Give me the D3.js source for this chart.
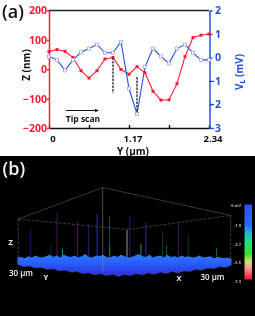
<!DOCTYPE html>
<html>
<head>
<meta charset="utf-8">
<script src="https://cdn.jsdelivr.net/npm/d3@7"></script>
<style>
    html, body { margin: 0; padding: 0; background: #fff; }
    svg { display: block; filter: blur(0.3px); }
    text { font-family: "Open Sans", sans-serif; font-weight: 700; }
    .soft { filter: blur(0.4px); }
</style>
</head>
<body>
<svg width="255" height="316"></svg>
<script>
    // panel (a)
    var yPos = [0, 0.117, 0.234, 0.351, 0.468, 0.585, 0.702, 0.819, 0.936, 1.053, 1.17,
        1.287, 1.404, 1.521, 1.638, 1.755, 1.872, 1.989, 2.106, 2.223, 2.34];
    var zNm = [60, 67, 61, 40, -5, -30, -5, 35, 40, -1, -17, 9, -12, -75, -105, -104, -49, 43, 108, 116, 120];
    var vL = [0.04, -0.1, -0.55, -0.1, 0.22, 0.38, 0.55, 0.2, 0.2, 0.67, -1.32, -2.4, -0.4, 0.38, 0.05, -0.25, 0.38, 0.55, 0.2, -0.1, -0.1];
    var xTicks = [0, 0.585, 1.17, 1.755, 2.34];
    var xTickLabels = ["0", "", "1.17", "", "2.34"];
    var zTicks = [-200, -100, 0, 100, 200];
    var vTicks = [-3, -2, -1, 0, 1, 2];
    var dashes = [
        { y: 0.936, from: 40, to: -82 },
        { y: 1.287, from: -26, to: -145 }
    ];

    // panel (b)
    var surfaceTop = [2, 3, 1, 4, 2, 5, 3, 2, 4, 6, 3, 5, 2, 6, 4, 3, 5, 2, 4, 7, 3, 2, 5, 4, 6, 3, 2, 5, 3, 6,
        4, 2, 3, 5, 7, 4, 3, 6, 2, 4, 5, 2, 6, 3, 4, 2, 5, 3, 4, 2, 3, 5, 2, 3, 4, 1, 3, 2, 1, 2, 0];
    var surfaceBottom = [-8, -11, -10, -13, -12, -15, -14, -17, -16, -19, -18, -21, -20, -23, -21, -24, -22, -25, -22, -24,
        -21, -23, -20, -22, -19, -21, -18, -20, -17, -18, -15, -16, -13, -14, -11, -12, -9];
    var spikeU = [3.7, 11.1, 16.8, 19.9, 22.3, 25.8, 31.5, 36, 45.1, 40.7, 47.9, 55.8, 34.6, 12.6, 25.9, 30.7, 9.4, 41.8];
    var spikeH = [42, 66, 54, 50, 64, 61, 61, 53, 52, 38, 35, 16, 21, 14, 19, 40, 21, 19];
    var spikeColors = ["#1e1e70", "#451858", "#5e1860", "#381870", "#2438b8", "#2438c0", "#2e2288", "#2438b0", "#451a66",
        "#0f4238", "#0e3a2c", "#186658", "#2aa08c", "#2aa08c", "#187868", "#4a6a60", "#0d352e", "#186658"];
    var barStops = [0, 0.28, 0.4, 0.52, 0.66, 0.76, 0.84, 1];
    var barColors = ["#2b50ff", "#2b6cff", "#22c0c0", "#25e070", "#30e030", "#d8e060", "#f0a0a0", "#ff1030"];
    var barTicks = [0, -1.9, -3.7, -5.5, -7.3];
    var barLabels = ["0 mV", "-1.9", "-3.7", "-5.5", "-7.3"];

    var svg = d3.select("svg");

    var x = d3.scaleLinear().domain([0, 2.34]).range([49, 209]);
    var yZ = d3.scaleLinear().domain([-200, 200]).range([128, 10.5]);
    var yV = d3.scaleLinear().domain([-3, 2]).range([128, 10.5]);

    var red = "#ff1a35", blue = "#2450e0";

    svg.append("line").attr("x1", 49).attr("x2", 209).attr("y1", 10.5).attr("y2", 10.5)
        .attr("stroke", "#222").attr("stroke-width", 1.6);

    var xAxis = svg.append("g").attr("transform", "translate(0,128)")
        .call(d3.axisBottom(x).tickValues(xTicks).tickSize(-3).tickSizeOuter(0)
            .tickFormat(function (d, i) { return xTickLabels[i]; }));
    xAxis.selectAll("path, line").attr("stroke", "#111").attr("stroke-width", 1.4);
    xAxis.selectAll("text").attr("fill", "#111").attr("font-size", 9.5).attr("y", 7).attr("dx", 3.5);

    var zAxis = svg.append("g").attr("transform", "translate(49,0)")
        .call(d3.axisLeft(yZ).tickValues(zTicks).tickSize(2).tickSizeOuter(0));
    zAxis.selectAll("path, line").attr("stroke", red).attr("stroke-width", 1.5);
    zAxis.selectAll("text").attr("fill", red).attr("font-size", 10.5).attr("x", -2);

    var vAxis = svg.append("g").attr("transform", "translate(209.5,0)")
        .call(d3.axisRight(yV).tickValues(vTicks).tickSize(3).tickSizeOuter(0).tickFormat(d3.format("d")));
    vAxis.selectAll("path, line").attr("stroke", blue).attr("stroke-width", 1.5);
    vAxis.selectAll("text").attr("fill", blue).attr("font-size", 10.5)
        .attr("text-anchor", "end").attr("x", 11.5);

    var zLine = d3.line().x(function (d, i) { return x(yPos[i]); }).y(function (d) { return yZ(d); });
    var vLine = d3.line().x(function (d, i) { return x(yPos[i]); }).y(function (d) { return yV(d); });

    svg.append("path").datum(zNm).attr("d", zLine).attr("fill", "none").attr("stroke", red).attr("stroke-width", 1.1);
    svg.append("path").datum(vL).attr("d", vLine).attr("fill", "none").attr("stroke", blue).attr("stroke-width", 1.1);

    svg.selectAll(".zpt").data(zNm).enter().append("rect").attr("class", "zpt")
        .attr("x", function (d, i) { return x(yPos[i]) - 1.5; })
        .attr("y", function (d) { return yZ(d) - 1.5; })
        .attr("width", 3).attr("height", 3).attr("fill", red);

    svg.selectAll(".vpt").data(vL).enter().append("rect").attr("class", "vpt")
        .attr("x", function (d, i) { return x(yPos[i]) - 1.5; })
        .attr("y", function (d) { return yV(d) - 1.5; })
        .attr("width", 3).attr("height", 3)
        .attr("fill", "#fff").attr("stroke", "#9aa6e8").attr("stroke-width", 0.8);

    svg.selectAll(".dash").data(dashes).enter().append("line").attr("class", "dash")
        .attr("x1", function (d) { return x(d.y); }).attr("x2", function (d) { return x(d.y); })
        .attr("y1", function (d) { return yZ(d.from); }).attr("y2", function (d) { return yZ(d.to); })
        .attr("stroke", "#222").attr("stroke-width", 1.3).attr("stroke-dasharray", "2.5,1");

    // tip scan arrow
    svg.append("line").attr("x1", 66).attr("x2", 96).attr("y1", 110.5).attr("y2", 110.5)
        .attr("stroke", "#111").attr("stroke-width", 1);
    svg.append("path").attr("d", "M99,110.5L95,108.8L95,112.2Z").attr("fill", "#111");
    svg.append("text").attr("x", 83).attr("y", 122).attr("text-anchor", "middle")
        .attr("font-size", 8.5).attr("fill", "#111").text("Tip scan");

    svg.append("text").attr("x", 2).attr("y", 18).attr("font-size", 18).attr("fill", "#111")
        .style("font-weight", 600).text("(a)");
    svg.append("text").attr("transform", "translate(30,65) rotate(-90)").attr("text-anchor", "middle")
        .attr("font-size", 10).attr("fill", "#111").text("Z (nm)");
    var vLabel = svg.append("text").attr("transform", "translate(243,72) rotate(-90)").attr("text-anchor", "middle")
        .attr("font-size", 10).attr("fill", blue);
    vLabel.append("tspan").text("V");
    vLabel.append("tspan").attr("font-size", 7).attr("dy", 2).text("L");
    vLabel.append("tspan").attr("dy", -2).text(" (mV)");
    svg.append("text").attr("x", 133).attr("y", 155).attr("text-anchor", "middle")
        .attr("font-size", 10).attr("fill", "#111").text("Y (µm)");

    // panel (b) background, cuts off the axis title like the original
    svg.append("rect").attr("x", 0).attr("y", 156).attr("width", 255).attr("height", 160).attr("fill", "#000");

    var u = d3.scaleLinear().domain([0, 60]).range([17.5, 231.5]);
    var h = d3.scaleLinear().domain([0, 100]).range([259, 189]);

    var defs = svg.append("defs");
    var bandGrad = defs.append("linearGradient").attr("id", "band").attr("x1", 0).attr("x2", 0).attr("y1", 0).attr("y2", 1);
    bandGrad.append("stop").attr("offset", 0).attr("stop-color", "#2a7cf5");
    bandGrad.append("stop").attr("offset", 0.35).attr("stop-color", "#2a62ff");
    bandGrad.append("stop").attr("offset", 1).attr("stop-color", "#2a2ad8");

    var barGrad = defs.append("linearGradient").attr("id", "bar").attr("x1", 0).attr("x2", 0).attr("y1", 0).attr("y2", 1);
    barStops.forEach(function (s, i) {
        barGrad.append("stop").attr("offset", s).attr("stop-color", barColors[i]);
    });

    var soft = svg.append("g").attr("class", "soft");

    // wireframe box
    var wire = [
        [[102.7, 187.5], [18.3, 219]],
        [[102.7, 187.5], [230.7, 215.5]]
    ];
    var wireDashed = [
        [[18.3, 219], [127.5, 229.5]],
        [[127.5, 229.5], [230.7, 215.5]],
        [[18.3, 219], [18.3, 262]],
        [[230.7, 215.5], [230.7, 264]]
    ];
    wire.forEach(function (l) {
        soft.append("path").attr("d", d3.line()(l)).attr("stroke", "#5a5a5a").attr("stroke-width", 0.6).attr("fill", "none");
    });
    wireDashed.forEach(function (l) {
        soft.append("path").attr("d", d3.line()(l)).attr("stroke", "#666").attr("stroke-width", 0.6)
            .attr("stroke-dasharray", "3,1.5").attr("fill", "none");
    });

    soft.selectAll(".spike").data(spikeU).enter().append("line").attr("class", "spike")
        .attr("x1", function (d) { return u(d); }).attr("x2", function (d) { return u(d); })
        .attr("y1", function (d, i) { return h(spikeH[i]); }).attr("y2", h(0))
        .attr("stroke", function (d, i) { return spikeColors[i]; }).attr("stroke-width", 0.9);

    var topPts = surfaceTop.map(function (d, i) { return [u(i), h(d)]; });
    var botPts = surfaceBottom.map(function (d, i) { return [u(i * 60 / (surfaceBottom.length - 1)), h(d)]; });
    soft.append("path").attr("d", d3.line()(topPts.concat(botPts.slice().reverse())) + "Z").attr("fill", "url(#band)");

    soft.append("path").attr("d", d3.line()(botPts)).attr("fill", "none").attr("stroke", "#555")
        .attr("stroke-width", 0.7).attr("stroke-dasharray", "1.5,1.5");

    // centre edge of the box over the surface
    soft.append("line").attr("x1", 102.7).attr("x2", 102.7).attr("y1", 187.5).attr("y2", 273)
        .attr("stroke", "#8a8a8a").attr("stroke-opacity", 0.7).attr("stroke-width", 0.8);
    soft.append("line").attr("x1", 127).attr("x2", 127).attr("y1", 229.5).attr("y2", 257)
        .attr("stroke", "#7a8a80").attr("stroke-width", 0.8);

    // colour bar
    var barY = d3.scaleLinear().domain([0, -7.3]).range([204.5, 279.5]);
    soft.append("rect").attr("x", 244.5).attr("y", barY(0)).attr("width", 7.5)
        .attr("height", barY(-7.3) - barY(0)).attr("fill", "url(#bar)");
    svg.selectAll(".barlab").data(barTicks).enter().append("text").attr("class", "barlab")
        .attr("x", 241).attr("y", function (d) { return barY(d) + (d === 0 ? 2 : 3); })
        .attr("text-anchor", "end").attr("font-size", 4).attr("fill", "#bbb")
        .text(function (d, i) { return barLabels[i]; });

    var white = [
        { t: "(b)", x: 2.5, y: 175, s: 18, w: 600 },
        { t: "Z", x: 8.5, y: 245, s: 7.5, w: 700 },
        { t: "30 µm", x: 9, y: 276, s: 8, w: 600 },
        { t: "Y", x: 43.5, y: 279.5, s: 7.5, w: 700 },
        { t: "X", x: 176.5, y: 281, s: 7.5, w: 700 },
        { t: "30 µm", x: 200.5, y: 280, s: 8, w: 600 }
    ];
    svg.selectAll(".wlab").data(white).enter().append("text").attr("class", "wlab")
        .attr("x", function (d) { return d.x; }).attr("y", function (d) { return d.y; })
        .attr("font-size", function (d) { return d.s; })
        .style("font-weight", function (d) { return d.w; })
        .attr("fill", "#f2f2f2")
        .text(function (d) { return d.t; });
</script>
</body>
</html>
